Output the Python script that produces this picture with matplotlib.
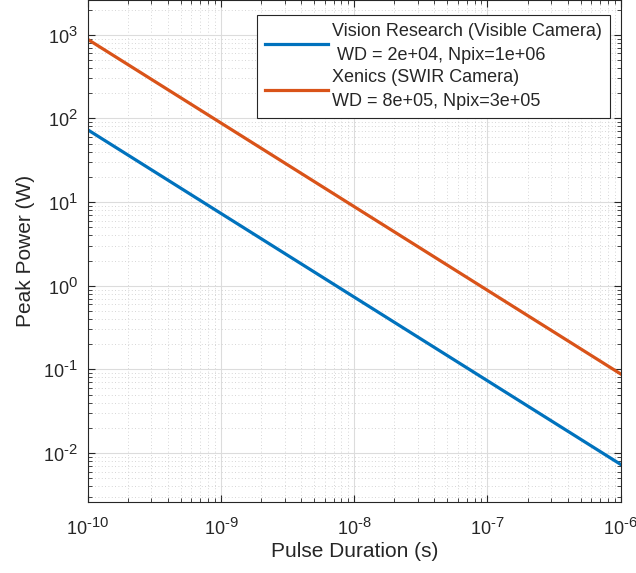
import matplotlib
matplotlib.use("Agg")
import numpy as np
import matplotlib.pyplot as plt
from matplotlib.ticker import LogLocator, NullFormatter, FuncFormatter

try:
    import matplotlib._mathtext as _mt
    _mt.SHRINK_FACTOR = 0.82
except Exception:
    pass

plt.rcParams['font.family'] = ['Liberation Sans', 'DejaVu Sans']
plt.rcParams['mathtext.fontset'] = 'custom'
plt.rcParams['mathtext.rm'] = 'Liberation Sans'
plt.rcParams['mathtext.it'] = 'Liberation Sans'
plt.rcParams['mathtext.bf'] = 'Liberation Sans'

pulse_duration = [1e-10, 1e-9, 1e-8, 1e-7, 1e-6]
power_vision = [73, 7.3, 0.73, 0.073, 0.0073]
power_xenics = [880, 88, 8.8, 0.88, 0.088]
labels = ["Vision Research (Visible Camera)\n WD = 2e+04, Npix=1e+06",
          "Xenics (SWIR Camera)\nWD = 8e+05, Npix=3e+05"]
colors = ["#0072BD", "#D95319"]

fig = plt.figure(figsize=(6.36, 5.73), dpi=100)
ax = fig.add_axes([0.138, 0.124, 0.838, 0.876])
ax.loglog(pulse_duration, power_vision, color=colors[0], lw=2.3, label=labels[0])
ax.loglog(pulse_duration, power_xenics, color=colors[1], lw=2.3, label=labels[1])
ax.set_xlim(1e-10, 1e-6)
ax.set_ylim(2.6e-3, 2.6e3)


def fmt(v, pos):
    e = int(round(np.log10(v)))
    return r'$10^{%s}$' % str(e).replace('-', '\u2010')


ax.xaxis.set_major_locator(LogLocator(base=10, numticks=20))
ax.yaxis.set_major_locator(LogLocator(base=10, numticks=20))
ax.xaxis.set_major_formatter(FuncFormatter(fmt))
ax.yaxis.set_major_formatter(FuncFormatter(fmt))
ax.xaxis.set_minor_locator(LogLocator(base=10, subs=range(2, 10), numticks=20))
ax.yaxis.set_minor_locator(LogLocator(base=10, subs=range(2, 10), numticks=20))
ax.xaxis.set_minor_formatter(NullFormatter())
ax.yaxis.set_minor_formatter(NullFormatter())

ax.grid(True, which='major', color='#dcdcdc', lw=0.8, ls='-')
ax.grid(True, which='minor', color='#c8c8c8', lw=0.6, ls=(0, (1, 3)))
ax.set_axisbelow(True)

gray = '#262626'
for s in ax.spines.values():
    s.set_color(gray)
    s.set_linewidth(0.8)
ax.tick_params(which='both', direction='in', top=True, right=True, colors=gray, labelcolor=gray)
ax.tick_params(which='major', length=5, labelsize=13)
ax.tick_params(axis='x', which='major', pad=11)
ax.tick_params(axis='y', which='major', pad=7)
ax.tick_params(which='minor', length=3)

ax.set_xlabel("Pulse Duration (s)", fontsize=15, color=gray, labelpad=2)
ax.set_ylabel("Peak Power (W)", fontsize=15, color=gray, labelpad=6)

leg = ax.legend(loc='upper right', fontsize=13, handlelength=3.5, frameon=True,
                fancybox=False, borderpad=0.45, labelspacing=0.25, handletextpad=0.2,
                bbox_to_anchor=(0.979, 0.970), borderaxespad=0)
leg.get_frame().set_edgecolor(gray)
leg.get_frame().set_linewidth(0.8)
leg.get_frame().set_alpha(1)
for t in leg.get_texts():
    t.set_color(gray)
    t.set_linespacing(1.55)

fig.savefig("out.png", dpi=100)
